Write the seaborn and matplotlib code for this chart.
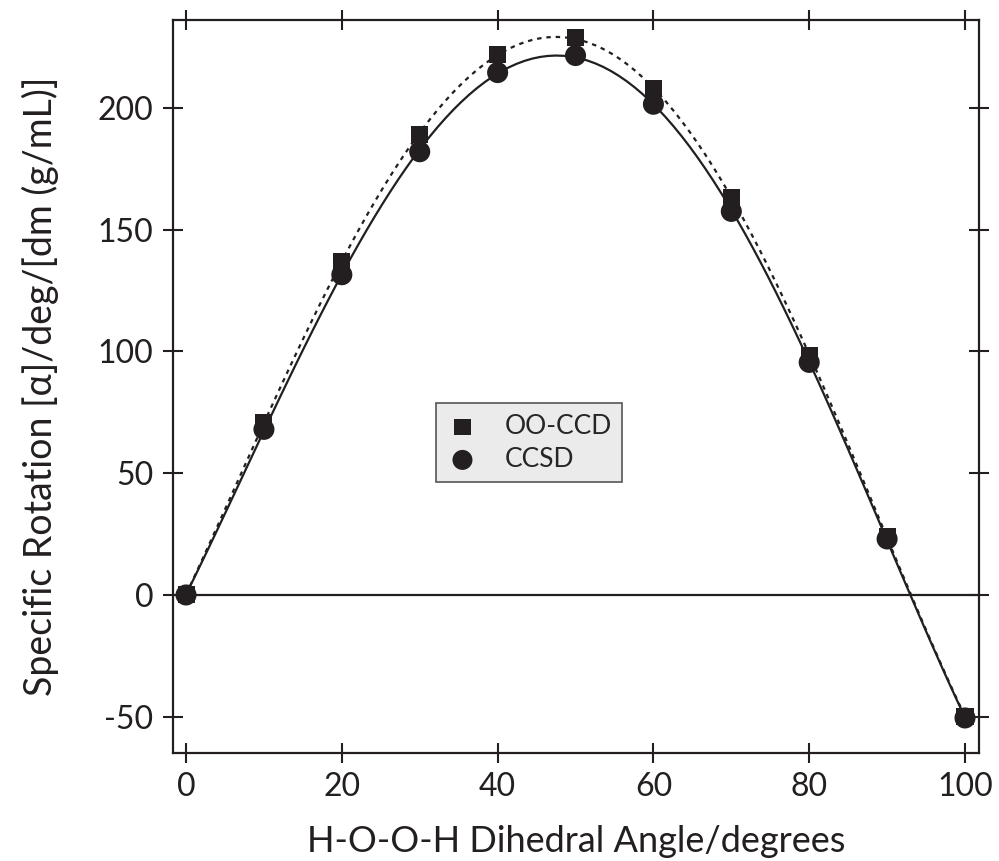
import numpy as np
import pandas as pd
import seaborn as sns
import matplotlib.pyplot as plt

angles = [0, 10, 20, 30, 40, 50, 60, 70, 80, 90, 100]
oo_ccd = [0, 71, 137, 189, 222, 229, 208, 163, 98.5, 24, -50]
ccsd = [0, 68, 131.5, 182, 214.5, 221.5, 201.5, 157.5, 95.5, 23, -50.5]

xticks = [0, 20, 40, 60, 80, 100]
yticks = [-50, 0, 50, 100, 150, 200]

df = pd.DataFrame({'angle': angles, 'OO-CCD': oo_ccd, 'CCSD': ccsd})

sns.set_style('white')
plt.rcParams['font.family'] = ['Lato', 'DejaVu Sans']
plt.rcParams['axes.unicode_minus'] = False

ink = '#231f20'
fig = plt.figure(figsize=(9.99, 8.61), dpi=100)
ax = fig.add_axes([0.1732, 0.1254, 0.8068, 0.8514])

ax.axhline(0, color=ink, lw=1.6, zorder=1)

# fitted curves
sns.regplot(data=df, x='angle', y='OO-CCD', order=5, ci=None, scatter=False, truncate=True,
            line_kws=dict(color=ink, lw=1.6, ls=(0, (2, 2.2))), ax=ax)
sns.regplot(data=df, x='angle', y='CCSD', order=5, ci=None, scatter=False, truncate=True,
            line_kws=dict(color=ink, lw=1.6, ls='-'), ax=ax)

sns.scatterplot(data=df, x='angle', y='OO-CCD', marker='s', s=150, color=ink,
                edgecolor='none', label='OO-CCD', ax=ax, zorder=3)
sns.scatterplot(data=df, x='angle', y='CCSD', marker='o', s=230, color=ink,
                edgecolor='none', label='CCSD', ax=ax, zorder=3)

ax.set_xlim(-1.67, 101.8)
ax.set_ylim(-64.9, 236.1)
ax.set_xticks(xticks)
ax.set_yticks(yticks)

for s in ax.spines.values():
    s.set_visible(True)
    s.set_color(ink)
    s.set_linewidth(1.6)

ax.tick_params(direction='inout', length=14, width=1.5, color=ink, labelsize=23,
               top=True, right=True, bottom=True, left=True, pad=7, labelcolor=ink)

ax.set_xlabel('H-O-O-H Dihedral Angle/degrees', fontsize=26, color=ink, labelpad=16)
ax.set_ylabel('Specific Rotation [\u03b1]/deg/[dm (g/mL)]', fontsize=27, color=ink, labelpad=28)

leg = ax.legend(loc='upper left', bbox_to_anchor=(0.31, 0.495), fontsize=19,
                frameon=True, fancybox=False, facecolor='#ebebeb', edgecolor='#555555',
                handlelength=1.2, handletextpad=1.0, borderpad=0.4, labelspacing=0.3,
                markerscale=0.95)
leg.get_frame().set_linewidth(1.2)
leg.get_frame().set_alpha(1)

fig.savefig('out.png', dpi=100)
